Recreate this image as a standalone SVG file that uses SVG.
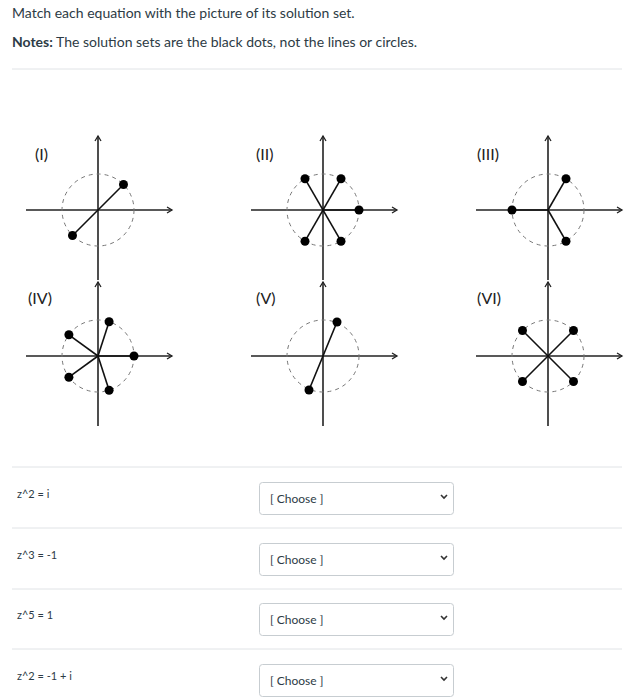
<svg xmlns="http://www.w3.org/2000/svg" width="632" height="700" viewBox="0 0 632 700">
<style>
text{font-family:Lato,"Liberation Sans",sans-serif;fill:#2d3b45}
.ax{stroke:#222;stroke-width:1.6;fill:none}
.c{stroke:#777;stroke-width:1;stroke-dasharray:4 4;fill:none}
.s{stroke:#111;stroke-width:1.6}
.d{fill:#000}
.lbl{font-size:16px;fill:#222}
.eq{font-size:11px}
.sel{fill:#fff;stroke:#c7cdd1;stroke-width:1}
.ch{font-size:12px}
.hr{stroke:#e0e3e6;stroke-width:1}
</style>
<defs>
<marker id="ar" markerWidth="8" markerHeight="8" refX="6" refY="4" orient="auto" markerUnits="userSpaceOnUse"><path d="M1,1 L6,4 L1,7" fill="none" stroke="#222" stroke-width="1.3"/></marker>
<g id="axes">
<line class="ax" x1="-72" y1="0" x2="74" y2="0" marker-end="url(#ar)"/>
<line class="ax" x1="0" y1="70" x2="0" y2="-74" marker-end="url(#ar)"/>
<circle class="c" r="36"/>
</g>
</defs>
<rect width="632" height="700" fill="#fff"/>
<text x="12" y="18" font-size="14">Match each equation with the picture of its solution set.</text>
<text x="12" y="47" font-size="14"><tspan font-weight="bold">Notes:</tspan> The solution sets are the black dots, not the lines or circles.</text>
<line class="hr" x1="12" y1="69" x2="622" y2="69"/>

<g id="plotI" transform="translate(98,210)">
<use href="#axes"/>
<line class="s" x1="25.5" y1="-25.5" x2="-25.5" y2="25.5"/>
<circle class="d" cx="25.5" cy="-25.5" r="4.5"/><circle class="d" cx="-25.5" cy="25.5" r="4.5"/>
<text class="lbl" x="-63" y="-50">(I)</text>
</g>
<g id="plotII" transform="translate(323,210)">
<use href="#axes"/>
<g class="s"><line x1="0" y1="0" x2="36" y2="0"/><line x1="18" y1="-31.2" x2="-18" y2="31.2"/><line x1="-18" y1="-31.2" x2="18" y2="31.2"/></g>
<circle class="d" cx="36" cy="0" r="4.5"/><circle class="d" cx="18" cy="-31.2" r="4.5"/><circle class="d" cx="-18" cy="-31.2" r="4.5"/><circle class="d" cx="18" cy="31.2" r="4.5"/><circle class="d" cx="-18" cy="31.2" r="4.5"/>
<text class="lbl" x="-67" y="-50">(II)</text>
</g>
<g id="plotIII" transform="translate(548,210)">
<use href="#axes"/>
<g class="s"><line x1="0" y1="0" x2="-36" y2="0"/><line x1="0" y1="0" x2="18" y2="-31.2"/><line x1="0" y1="0" x2="18" y2="31.2"/></g>
<circle class="d" cx="-36" cy="0" r="4.5"/><circle class="d" cx="18" cy="-31.2" r="4.5"/><circle class="d" cx="18" cy="31.2" r="4.5"/>
<text class="lbl" x="-71" y="-50">(III)</text>
</g>
<g id="plotIV" transform="translate(98,356)">
<use href="#axes"/>
<g class="s"><line x1="0" y1="0" x2="36" y2="0"/><line x1="0" y1="0" x2="11.1" y2="-34.2"/><line x1="0" y1="0" x2="-29.1" y2="-21.2"/><line x1="0" y1="0" x2="-29.1" y2="21.2"/><line x1="0" y1="0" x2="11.1" y2="34.2"/></g>
<circle class="d" cx="36" cy="0" r="4.5"/><circle class="d" cx="11.1" cy="-34.2" r="4.5"/><circle class="d" cx="-29.1" cy="-21.2" r="4.5"/><circle class="d" cx="-29.1" cy="21.2" r="4.5"/><circle class="d" cx="11.1" cy="34.2" r="4.5"/>
<text class="lbl" x="-70" y="-52">(IV)</text>
</g>
<g id="plotV" transform="translate(323,356)">
<use href="#axes"/>
<line class="s" x1="14" y1="-34" x2="-14" y2="34"/>
<circle class="d" cx="14" cy="-34" r="4.5"/><circle class="d" cx="-14" cy="34" r="4.5"/>
<text class="lbl" x="-67" y="-52">(V)</text>
</g>
<g id="plotVI" transform="translate(548,356)">
<use href="#axes"/>
<g class="s"><line x1="25.5" y1="-25.5" x2="-25.5" y2="25.5"/><line x1="-25.5" y1="-25.5" x2="25.5" y2="25.5"/></g>
<circle class="d" cx="25.5" cy="-25.5" r="4.5"/><circle class="d" cx="-25.5" cy="-25.5" r="4.5"/><circle class="d" cx="25.5" cy="25.5" r="4.5"/><circle class="d" cx="-25.5" cy="25.5" r="4.5"/>
<text class="lbl" x="-71" y="-52">(VI)</text>
</g>

<g id="rows">
<line class="hr" x1="12" y1="467" x2="622" y2="467"/>
<line class="hr" x1="12" y1="528" x2="622" y2="528"/>
<line class="hr" x1="12" y1="589" x2="622" y2="589"/>
<line class="hr" x1="12" y1="649" x2="622" y2="649"/>
<text class="eq" x="17" y="498">z^2 = i</text>
<text class="eq" x="17" y="559">z^3 = -1</text>
<text class="eq" x="17" y="619">z^5 = 1</text>
<text class="eq" x="17" y="680">z^2 = -1 + i</text>
<g id="sel1"><rect class="sel" x="259.5" y="482.5" width="194" height="32" rx="3"/><text class="ch" x="270" y="503">[ Choose ]</text><path d="M441,495 l3,3 l3,-3" stroke="#333" stroke-width="1.6" fill="none"/></g>
<g id="sel2"><rect class="sel" x="259.5" y="543.5" width="194" height="32" rx="3"/><text class="ch" x="270" y="564">[ Choose ]</text><path d="M441,556 l3,3 l3,-3" stroke="#333" stroke-width="1.6" fill="none"/></g>
<g id="sel3"><rect class="sel" x="259.5" y="603.5" width="194" height="32" rx="3"/><text class="ch" x="270" y="624">[ Choose ]</text><path d="M441,616 l3,3 l3,-3" stroke="#333" stroke-width="1.6" fill="none"/></g>
<g id="sel4"><rect class="sel" x="259.5" y="664.5" width="194" height="32" rx="3"/><text class="ch" x="270" y="685">[ Choose ]</text><path d="M441,677 l3,3 l3,-3" stroke="#333" stroke-width="1.6" fill="none"/></g>
</g>
</svg>
